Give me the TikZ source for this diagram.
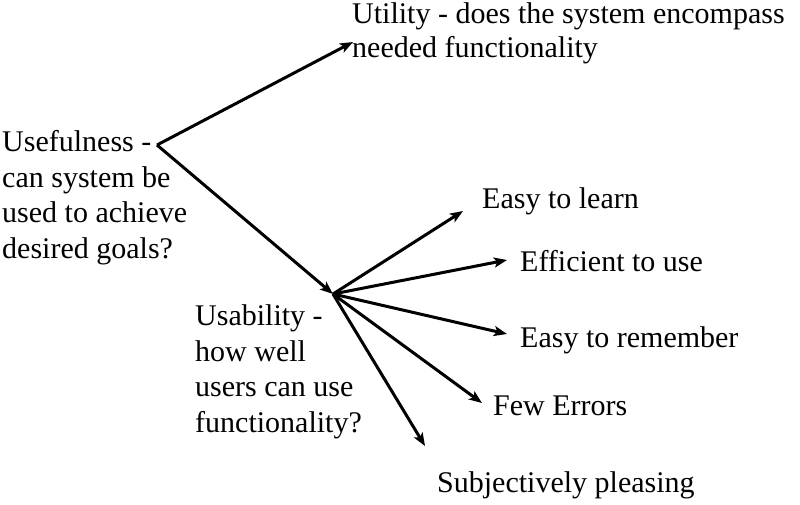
\documentclass[tikz,border=0pt]{standalone}
\usepackage{fontspec}
\setmainfont{Liberation Serif}
\usetikzlibrary{arrows.meta}
\begin{document}
\begin{tikzpicture}[x=1pt,y=-1pt,
  txt/.style={font=\fontsize{30}{35.5}\selectfont,inner sep=0pt,anchor=base west,align=left},
  arr/.style={line width=3pt,-{Stealth[length=13pt,width=10pt,inset=3pt]}}]
\useasboundingbox (0,0) rectangle (800,504);
% the two branches (base = last line)
\node[txt] (useful) at (2,258) {Usefulness -\\can system be\\used to achieve\\desired goals?};
\node[txt,font=\fontsize{30}{34}\selectfont] (utility) at (352,57) {Utility - does the system encompass\\needed functionality};
\node[txt] (usab) at (195,432) {Usability -\\how well\\users can use\\functionality?};
% the usability items
\node[txt] (learn) at (482,208) {Easy to learn};
\node[txt] (effic) at (520,271) {Efficient to use};
\node[txt] (remem) at (520,347) {Easy to remember};
\node[txt] (errors) at (493,415) {Few Errors};
\node[txt] (pleas) at (437,492) {Subjectively pleasing};
% junctions and arrow ends
\coordinate (ufj) at (157,145);
\coordinate (usj) at (333,294);
\coordinate (utip) at (353,42);
\coordinate (t1) at (463,211);
\coordinate (t2) at (507,260);
\coordinate (t3) at (507,334);
\coordinate (t4) at (482,403);
\coordinate (t5) at (425,446);
\draw[arr] (ufj) -- (utip);
\draw[arr] (ufj) -- (usj);
\foreach \t in {t1,t2,t3,t4,t5}
  \draw[arr] (usj) -- (\t);
\end{tikzpicture}
\end{document}
